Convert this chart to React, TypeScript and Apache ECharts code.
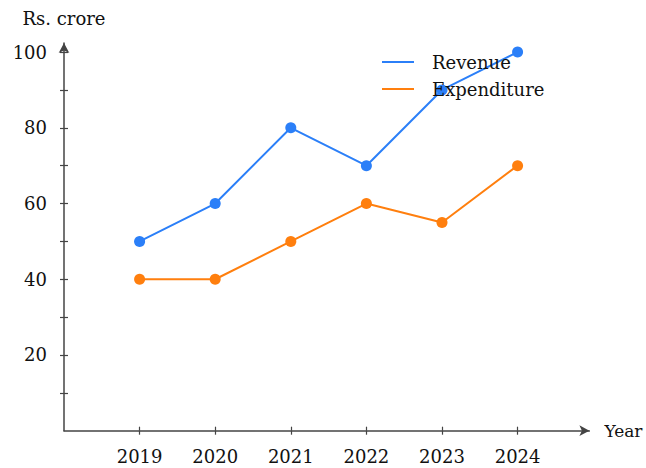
import React, { useEffect, useRef } from "react";
import * as echarts from "echarts";

const years = [2019, 2020, 2021, 2022, 2023, 2024];
const revenue = [50, 60, 80, 70, 90, 100];
const expenditure = [40, 40, 50, 60, 55, 70];
const yTickValues = [10, 20, 30, 40, 50, 60, 70, 80, 90, 100];
const yLabelValues = [20, 40, 60, 80, 100];

const FONT = "DejaVu Serif";
const AXIS_COLOR = "#444";

export default function App() {
  const ref = useRef<HTMLDivElement>(null);
  useEffect(() => {
    if (!ref.current) return;
    const chart = echarts.init(ref.current, undefined, { renderer: "svg" });
    const xBase = {
      type: "value" as const,
      min: 2018,
      max: 2024.95,
      position: "bottom" as const,
      splitLine: { show: false },
    };
    const yBase = {
      type: "value" as const,
      min: 0,
      max: 102.4,
      position: "left" as const,
      splitLine: { show: false },
    };
    chart.setOption({
      animation: false,
      textStyle: { fontFamily: FONT },
      grid: { left: 64, right: 56.6, top: 43, bottom: 37.3, containLabel: false, outerBoundsMode: "none" },
      legend: {
        orient: "vertical",
        left: 377,
        top: 47,
        icon: "rect",
        itemWidth: 32,
        itemHeight: 2,
        itemGap: 7,
        textStyle: { fontFamily: FONT, fontSize: 18, color: "#111", lineHeight: 20, padding: [0, 0, 0, 13] },
        data: ["Revenue", "Expenditure"],
      },
      xAxis: [
        {
          ...xBase,
          name: "Year",
          nameLocation: "end",
          nameGap: 15,
          nameTextStyle: { fontFamily: FONT, fontSize: 17, color: "#111", align: "left", verticalAlign: "middle" },
          axisLine: {
            show: true,
            lineStyle: { color: AXIS_COLOR, width: 1.5 },
            symbol: ["none", "arrow"],
            symbolSize: [8, 10],
          },
          axisTick: { show: true, inside: false, length: 4, customValues: years, lineStyle: { color: AXIS_COLOR, width: 1.2 } },
          axisLabel: {
            show: true,
            customValues: years,
            margin: 17,
            fontFamily: FONT,
            fontSize: 18,
            color: "#111",
            formatter: (v: number) => String(Math.round(v)),
          },
        },
        {
          ...xBase,
          axisLine: { show: false },
          axisTick: { show: true, inside: true, length: 4, customValues: years, lineStyle: { color: AXIS_COLOR, width: 1.2 } },
          axisLabel: { show: false },
        },
      ],
      yAxis: [
        {
          ...yBase,
          name: "Rs. crore",
          nameLocation: "end",
          nameGap: 16,
          nameTextStyle: { fontFamily: FONT, fontSize: 18, color: "#111", align: "center" },
          axisLine: {
            show: true,
            lineStyle: { color: AXIS_COLOR, width: 1.5 },
            symbol: ["none", "arrow"],
            symbolSize: [8, 10],
          },
          axisTick: { show: true, inside: false, length: 4, customValues: yTickValues, lineStyle: { color: AXIS_COLOR, width: 1.2 } },
          axisLabel: {
            show: true,
            customValues: yLabelValues,
            margin: 17,
            fontFamily: FONT,
            fontSize: 18,
            color: "#111",
          },
        },
        {
          ...yBase,
          axisLine: { show: false },
          axisTick: { show: true, inside: true, length: 4, customValues: yTickValues, lineStyle: { color: AXIS_COLOR, width: 1.2 } },
          axisLabel: { show: false },
        },
      ],
      series: [
        {
          name: "Revenue",
          type: "line",
          xAxisIndex: 0,
          yAxisIndex: 0,
          data: years.map((y, i) => [y, revenue[i]]),
          symbol: "circle",
          symbolSize: 11,
          color: "#2b7ff8",
          lineStyle: { width: 2 },
          itemStyle: { color: "#2b7ff8" },
        },
        {
          name: "Expenditure",
          type: "line",
          xAxisIndex: 0,
          yAxisIndex: 0,
          data: years.map((y, i) => [y, expenditure[i]]),
          symbol: "circle",
          symbolSize: 11,
          color: "#ff7f0e",
          lineStyle: { width: 2 },
          itemStyle: { color: "#ff7f0e" },
        },
      ],
    });
    return () => chart.dispose();
  }, []);
  return <div ref={ref} style={{ width: 646, height: 468, position: "absolute", left: 0, top: 0 }} />;
}
